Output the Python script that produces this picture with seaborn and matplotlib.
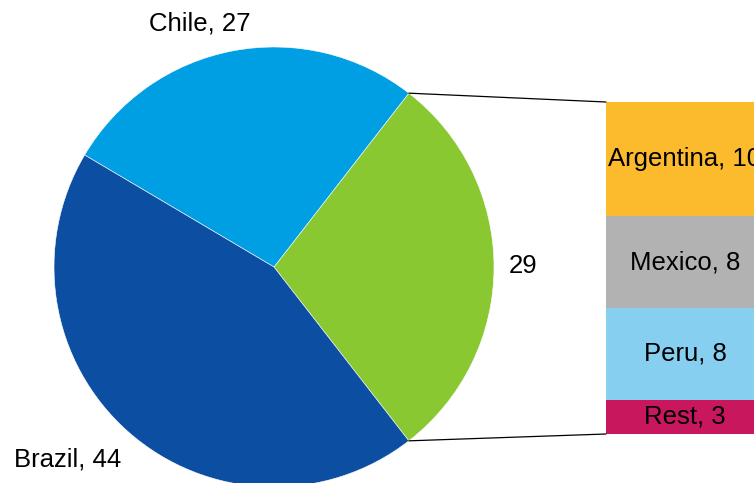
import numpy as np
import pandas as pd
import seaborn as sns
import matplotlib.pyplot as plt
from matplotlib.patches import ConnectionPatch

sns.set_theme(style="white")
plt.rcParams['font.family'] = ['Liberation Sans', 'DejaVu Sans']
plt.rcParams['text.color'] = 'black'

# Pie data (the "other" slice is broken out in the bar)
pie_labels = ["", "Chile, 27", "Brazil, 44"]
pie_values = [29, 27, 44]
pie_colors = ["#8AC832", "#009FE3", "#0B4EA2"]

# Bar breakdown of the 29 slice, bottom to top
bar_names = ["Rest", "Peru", "Mexico", "Argentina"]
bar_values = [3, 8, 8, 10]
bar_colors = ["#C8175D", "#87CFF0", "#B2B2B2", "#FBBB2C"]

W, H = 754, 483
fig = plt.figure(figsize=(W / 100, H / 100), dpi=100)

# pie axes: centre (274, 267) px, radius 220 px
pax = fig.add_axes([(274 - 220) / W, (H - 267 - 220) / H, 440 / W, 440 / H])
start = -pie_values[0] * 3.6 / 2
wedges, _ = pax.pie(pie_values, colors=pie_colors, startangle=start,
                    counterclock=True, radius=1,
                    wedgeprops=dict(edgecolor="white", linewidth=0.4))
pax.set_xlim(-1, 1)
pax.set_ylim(-1, 1)
pax.set_aspect("equal")
pax.axis("off")

fs = 18.5
pax.text(-0.336, 1.105, "Chile, 27", ha="center", va="center", fontsize=fs, color="black")
pax.text(-0.936, -0.875, "Brazil, 44", ha="center", va="center", fontsize=fs, color="black")
pax.text(1.132, 0.005, str(pie_values[0]), ha="center", va="center", fontsize=fs, color="black")

# bar axes: x 606..764 px, y 102..434 px
bax = fig.add_axes([606 / W, (H - 434) / H, 158 / W, 332 / H])
bottom = 0
for name, val, col in zip(bar_names, bar_values, bar_colors):
    bax.bar(0, val, bottom=bottom, width=1, color=col, linewidth=0)
    bax.text(0, bottom + val / 2, f"{name}, {val}", ha="center", va="center",
             fontsize=fs, color="black")
    bottom += val
bax.set_xlim(-0.5, 0.5)
bax.set_ylim(0, sum(bar_values))
bax.axis("off")

# connector lines from pie slice edges to bar corners
th1 = np.deg2rad(wedges[0].theta1)
th2 = np.deg2rad(wedges[0].theta2)
for th, yb in [(th2, sum(bar_values)), (th1, 0)]:
    con = ConnectionPatch(xyA=(np.cos(th), np.sin(th)), coordsA=pax.transData,
                          xyB=(-0.5, yb), coordsB=bax.transData,
                          color="black", linewidth=0.9)
    fig.add_artist(con)

fig.savefig("out.png", dpi=100)
